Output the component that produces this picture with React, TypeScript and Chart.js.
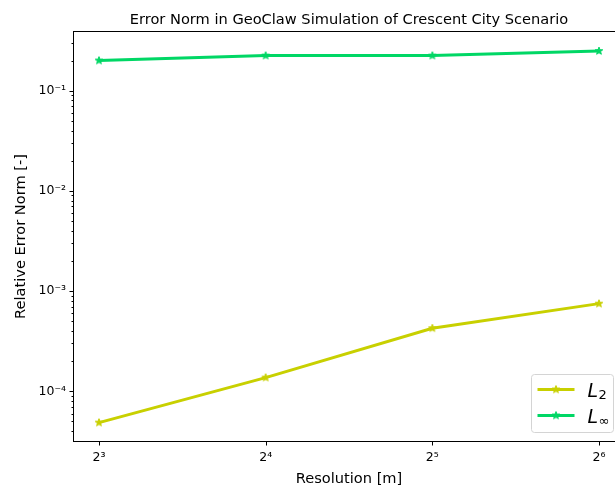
import React, { useEffect, useRef } from 'react';
import { Chart, registerables } from 'chart.js';

Chart.register(...registerables);

const TITLE = 'Error Norm in GeoClaw Simulation of Crescent City Scenario';
const X_LABEL = 'Resolution [m]';
const Y_LABEL = 'Relative Error Norm [-]';

const resolutions = [8, 16, 32, 64];
const l2Values = [4.87e-5, 1.37e-4, 4.26e-4, 7.5e-4];
const lInfValues = [0.2, 0.224, 0.224, 0.249];
const seriesMain = ['L', 'L'];
const seriesSub = ['2', '∞'];
const seriesColors = ['#c8d000', '#00d765'];
const xTickValues = [8, 16, 32, 64];
const yExponents = [-5, -4, -3, -2, -1, 0];

const X_MIN = Math.pow(2, 2.85);
const X_MAX = Math.pow(2, 6.15);
const Y_MIN = Math.pow(10, -4.496);
const Y_MAX = Math.pow(10, -0.414);

const FONT = "'DejaVu Sans', sans-serif";
const SUP: Record<string, string> = {
  '-': '⁻', '0': '⁰', '1': '¹', '2': '²', '3': '³', '4': '⁴',
  '5': '⁵', '6': '⁶', '7': '⁷', '8': '⁸', '9': '⁹',
};
const sup = (s: string) => s.split('').map((c) => SUP[c] || c).join('');

function makeStar(color: string, r: number) {
  const size = Math.ceil(r * 2 + 2);
  const c = document.createElement('canvas');
  c.width = size;
  c.height = size;
  const ctx = c.getContext('2d')!;
  ctx.fillStyle = color;
  ctx.strokeStyle = color;
  ctx.lineWidth = 1;
  ctx.beginPath();
  for (let i = 0; i < 10; i++) {
    const rad = i % 2 === 0 ? r : r * 0.42;
    const ang = -Math.PI / 2 + (i * Math.PI) / 5;
    const x = size / 2 + rad * Math.cos(ang);
    const y = size / 2 + rad * Math.sin(ang);
    if (i === 0) ctx.moveTo(x, y);
    else ctx.lineTo(x, y);
  }
  ctx.closePath();
  ctx.fill();
  ctx.stroke();
  return c;
}

function isPow(v: number, base: number) {
  const l = Math.log(v) / Math.log(base);
  return Math.abs(l - Math.round(l)) < 1e-9;
}

const decorPlugin = {
  id: 'decor',
  afterDraw(chart: any) {
    const { ctx, chartArea: a, scales } = chart;
    ctx.save();
    // title
    ctx.fillStyle = '#000';
    ctx.font = `14.6px ${FONT}`;
    ctx.textAlign = 'center';
    ctx.textBaseline = 'middle';
    ctx.fillText(TITLE, (a.left + a.right) / 2, 20);

    // ticks
    ctx.strokeStyle = '#000';
    ctx.lineWidth = 1;
    const ys = scales.y;
    ys.ticks.forEach((t: any) => {
      const p = Math.round(ys.getPixelForValue(t.value)) + 0.5;
      const len = isPow(t.value, 10) ? 4.5 : 2.5;
      ctx.beginPath();
      ctx.moveTo(a.left, p);
      ctx.lineTo(a.left - len, p);
      ctx.stroke();
    });
    const xs = scales.x;
    xs.ticks.forEach((t: any) => {
      const p = Math.round(xs.getPixelForValue(t.value)) + 0.5;
      ctx.beginPath();
      ctx.moveTo(p, a.bottom);
      ctx.lineTo(p, a.bottom + 4.5);
      ctx.stroke();
    });

    // spines
    ctx.strokeRect(
      Math.round(a.left) - 0.5,
      Math.round(a.top) - 0.5,
      Math.round(a.right - a.left) + 1,
      Math.round(a.bottom - a.top) + 1
    );

    // legend
    const boxW = 82;
    const boxH = 58;
    const bx = a.right - 11 - boxW + 0.5;
    const by = a.bottom - 9 - boxH + 0.5;
    const rr = 3;
    ctx.beginPath();
    ctx.moveTo(bx + rr, by);
    ctx.lineTo(bx + boxW - rr, by);
    ctx.arcTo(bx + boxW, by, bx + boxW, by + rr, rr);
    ctx.lineTo(bx + boxW, by + boxH - rr);
    ctx.arcTo(bx + boxW, by + boxH, bx + boxW - rr, by + boxH, rr);
    ctx.lineTo(bx + rr, by + boxH);
    ctx.arcTo(bx, by + boxH, bx, by + boxH - rr, rr);
    ctx.lineTo(bx, by + rr);
    ctx.arcTo(bx, by, bx + rr, by, rr);
    ctx.closePath();
    ctx.fillStyle = 'rgba(255,255,255,0.8)';
    ctx.fill();
    ctx.strokeStyle = '#d4d4d4';
    ctx.stroke();

    chart.data.datasets.forEach((ds: any, i: number) => {
      const y = by + 15 + i * 26;
      ctx.strokeStyle = ds.borderColor;
      ctx.lineWidth = 3;
      ctx.beginPath();
      ctx.moveTo(bx + 6, y);
      ctx.lineTo(bx + 43, y);
      ctx.stroke();
      const img = ds.pointStyle;
      ctx.drawImage(img, bx + 24.5 - img.width / 2, y - img.height / 2);
      ctx.fillStyle = '#000';
      ctx.textAlign = 'left';
      ctx.textBaseline = 'alphabetic';
      ctx.font = `italic 19px ${FONT}`;
      const tx = bx + 56;
      ctx.fillText(seriesMain[i], tx, y + 7);
      const w = ctx.measureText(seriesMain[i]).width;
      ctx.font = `13px ${FONT}`;
      ctx.fillText(seriesSub[i], tx + w + 0.5, y + 9);
    });
    ctx.restore();
  },
};

export default function App() {
  const ref = useRef<HTMLCanvasElement | null>(null);
  useEffect(() => {
    if (!ref.current) return;
    const chart = new Chart(ref.current, {
      type: 'line',
      data: {
        labels: resolutions,
        datasets: [
          {
            label: seriesMain[0] + seriesSub[0],
            data: resolutions.map((x, i) => ({ x, y: l2Values[i] })),
            borderColor: seriesColors[0],
            backgroundColor: seriesColors[0],
            borderWidth: 3,
            pointStyle: makeStar(seriesColors[0], 4) as any,
            pointRadius: 4,
            fill: false,
            tension: 0,
          },
          {
            label: seriesMain[1] + seriesSub[1],
            data: resolutions.map((x, i) => ({ x, y: lInfValues[i] })),
            borderColor: seriesColors[1],
            backgroundColor: seriesColors[1],
            borderWidth: 3,
            pointStyle: makeStar(seriesColors[1], 4) as any,
            pointRadius: 4,
            fill: false,
            tension: 0,
          },
        ],
      },
      options: {
        animation: false,
        responsive: false,
        devicePixelRatio: 1,
        layout: { padding: { left: 0, top: 32, right: 16, bottom: 0 } },
        plugins: {
          legend: { display: false },
          title: { display: false },
          tooltip: { enabled: false },
        },
        scales: {
          x: {
            type: 'logarithmic',
            min: X_MIN,
            max: X_MAX,
            bounds: 'data',
            afterFit: (s: any) => {
              s.height = 46;
            },
            afterBuildTicks: (s: any) => {
              s.ticks = xTickValues.map((v) => ({ value: v, major: true }));
            },
            grid: { display: false, drawTicks: false },
            border: { display: false },
            ticks: {
              autoSkip: false,
              maxRotation: 0,
              padding: 9,
              color: '#000',
              font: { family: FONT, size: 12.5 },
              callback: (v: any) => '2' + sup(String(Math.round(Math.log2(Number(v))))),
            },
            title: {
              display: true,
              text: X_LABEL,
              color: '#000',
              font: { family: FONT, size: 14.6 },
              padding: { top: 0, bottom: -1 },
            },
          },
          y: {
            type: 'logarithmic',
            min: Y_MIN,
            max: Y_MAX,
            bounds: 'data',
            afterFit: (s: any) => {
              s.width = 74;
            },
            afterBuildTicks: (s: any) => {
              const t: any[] = [];
              yExponents.forEach((e) => {
                for (let m = 1; m <= 9; m++) {
                  const v = m * Math.pow(10, e);
                  if (v >= Y_MIN && v <= Y_MAX) t.push({ value: v, major: m === 1 });
                }
              });
              s.ticks = t;
            },
            grid: { display: false, drawTicks: false },
            border: { display: false },
            ticks: {
              autoSkip: false,
              padding: 8,
              color: '#000',
              font: { family: FONT, size: 12.5 },
              callback: (v: any) => {
                const n = Number(v);
                if (!isPow(n, 10)) return '';
                return '10' + sup(String(Math.round(Math.log10(n))));
              },
            },
            title: {
              display: true,
              text: Y_LABEL,
              color: '#000',
              font: { family: FONT, size: 14.6 },
              padding: { top: 12, bottom: 0 },
            },
          },
        },
      },
      plugins: [decorPlugin],
    } as any);
    return () => chart.destroy();
  }, []);
  return (
    <div
      style={{
        position: 'absolute',
        left: 0,
        top: 0,
        width: 615,
        height: 487,
        overflow: 'hidden',
        background: '#fff',
      }}
    >
      <canvas ref={ref} width={640} height={487} style={{ display: 'block' }} />
    </div>
  );
}
